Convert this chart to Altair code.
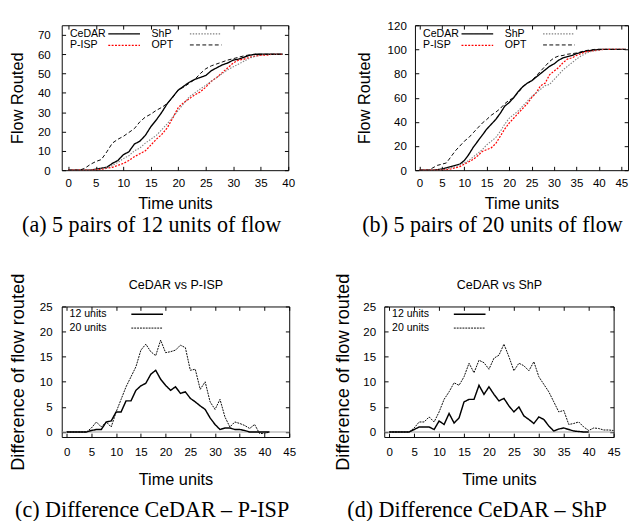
import altair as alt
import pandas as pd

# ---------------- data ----------------
# (a) 5 pairs of 12 units of flow
t_a = list(range(0, 40))
cedar_a = [0, 0, 0, 0, 0, 0.5, 1, 1.5, 3.5, 5, 8, 9.5, 13.5, 15, 18, 22.5, 26, 30, 34.5, 38,
           41.5, 43.5, 45.5, 47, 48, 49, 51.5, 53, 54.5, 55.5, 57, 57.5, 58.5, 59.5, 60, 60, 60, 60, 60, 60]
pisp_a = [0, 0, 0, 0, 0, 0.2, 0.5, 1, 1.5, 2.5, 3.5, 5, 7, 8.5, 10, 13, 16, 18.5, 22, 27,
          32.5, 35, 37, 39, 40.5, 43, 46, 48, 50.5, 53, 55.5, 57, 57.5, 58.5, 59, 59.5, 59.5, 60, 60, 60]
shp_a = [0, 0, 0, 0, 0, 0.3, 0.7, 1.2, 2.5, 4, 6, 7.5, 10, 11.5, 14, 16, 18, 21, 24, 27.5,
         31, 34.5, 38, 40, 42, 44, 46, 48, 50, 52, 53.5, 55, 56.5, 58, 59, 59.5, 60, 60, 60, 60]
opt_a = [0, 0, 0, 1, 3, 4.5, 5.5, 9.5, 14, 16, 17.5, 19.5, 21.5, 25, 27.5, 29, 31, 32.5, 34.6, 37.7,
         41.5, 43, 45, 47, 50, 52.5, 54, 55, 56, 57, 57.7, 58.5, 59.2, 59.7, 60, 60, 60, 60, 60, 60]

# (b) 5 pairs of 20 units of flow
t_b = list(range(0, 47))
cedar_b = [0, 0, 0, 0, 0.5, 1, 2, 3, 4, 5, 8, 13, 19, 24, 29, 34, 38, 42, 47, 53,
           56, 60, 65, 69, 72, 74, 77, 80, 83, 86, 88, 91, 93, 94, 95, 96.5, 97.5, 98.5, 99, 99.5,
           100, 100, 100, 100, 100, 100, 100]
pisp_b = [0, 0, 0, 0, 0, 0.2, 0.5, 1, 2, 3, 5, 7, 9, 12, 15.5, 17, 18.5, 22, 28, 34,
          39, 43, 47, 51, 55, 60, 64, 70, 72, 79, 82, 85, 89, 92, 93, 95, 96.5, 98, 98.5, 99,
          99.5, 100, 100, 100, 100, 100, 100]
shp_b = [0, 0, 0, 0, 0, 0.5, 1, 2, 3, 4.5, 6, 8, 11, 14, 17, 21, 24, 27, 32, 38,
         43, 46, 49, 53, 57, 61, 64, 67, 70, 71, 75, 79, 83, 86, 89, 92, 94.5, 96.5, 98, 99,
         99.5, 100, 100, 100, 100, 100, 100]
opt_b = [0, 0, 0, 2, 4, 5, 6, 11, 16, 20, 24, 27, 31, 35, 39, 42, 45.5, 48, 51, 55,
         58, 60, 64, 69, 72, 74, 78, 82, 86, 90, 93, 94.5, 95, 96, 96.5, 97, 98, 99, 99.5, 100,
         100, 100, 100, 100, 100, 100, 100]

# (c) Difference CeDAR - P-ISP
t_c = list(range(0, 42))
c_12 = [0, 0, 0, 0, 0, 0.3, 0.5, 0.5, 2, 2.2, 4, 4, 6.2, 6.2, 8.3, 9.2, 9.7, 11.5, 12.3, 10.5,
        9.3, 8.3, 9, 7.7, 8, 6.7, 6, 5.2, 4.5, 2.8, 1.5, 0.5, 0.8, 0.8, 0.5, 0.5, 0.3, 0, 0, 0,
        0, 0]
c_20 = [0, 0, 0, 0, 0, 0.8, 2, 1, 2, 1, 4, 6.5, 9, 11, 13, 16.3, 17.5, 16, 15.2, 18.3,
        15.8, 16, 16.3, 17.3, 16.8, 12.3, 12.5, 8.5, 10, 6, 4.5, 6.5, 3, 1, 2, 1.7, 1.3, 0.7, 1.5, -0.3,
        -0.3, 0]

# (d) Difference CeDAR - ShP
t_d12 = list(range(0, 41))
d_12 = [0, 0, 0, 0, 0, 0.5, 1, 1, 1, 0.5, 2.2, 1.5, 3.7, 1.8, 2.8, 6, 6.5, 6.5, 9.3, 7.5,
        9, 7.5, 6.2, 6.7, 5.2, 4, 5, 3.2, 2.5, 1.7, 3, 2.5, 1.2, 0.2, 0.6, 0.8, 0.5, 0.2, 0.1, 0,
        0]
t_d20 = list(range(0, 46))
d_20 = [0, 0, 0, 0, 0, 0.8, 2, 2, 3, 2, 4, 6.5, 8, 9.8, 9.3, 11, 13.7, 11.8, 14.3, 13.8,
        12.5, 14.7, 15.3, 17.5, 15, 12.2, 13.7, 13.2, 12.2, 14, 11, 9.5, 8, 6, 4, 4.3, 1.5, 1.7, 2, 1,
        0.3, 0.8, 0.7, 0.4, 0.4, 0.3]

series_ab = ["CeDAR", "P-ISP", "ShP", "OPT"]
series_cd = ["12 units", "20 units"]
x_ticks_a = [0, 5, 10, 15, 20, 25, 30, 35, 40]
x_ticks_bcd = [0, 5, 10, 15, 20, 25, 30, 35, 40, 45]
y_ticks_a = [0, 10, 20, 30, 40, 50, 60, 70]
y_ticks_b = [0, 20, 40, 60, 80, 100, 120]
y_ticks_cd = [0, 5, 10, 15, 20, 25]
# zero reference line of the difference plots, spanning the whole time axis
zero_y = [0]
zero_from = [-1]
zero_to = [45]

SANS = "Liberation Sans"
SERIF = "Liberation Serif"
INWARD = {"expr": "-4"}   # gnuplot-style ticks pointing into the plot


def long_df(pairs):
    rows = []
    for name, ts, vs in pairs:
        for t, v in zip(ts, vs):
            rows.append({"series": name, "t": t, "v": v})
    return pd.DataFrame(rows)


df_a = long_df([("CeDAR", t_a, cedar_a), ("P-ISP", t_a, pisp_a), ("ShP", t_a, shp_a), ("OPT", t_a, opt_a)])
df_b = long_df([("CeDAR", t_b, cedar_b), ("P-ISP", t_b, pisp_b), ("ShP", t_b, shp_b), ("OPT", t_b, opt_b)])
df_c = long_df([("12 units", t_c, c_12), ("20 units", t_c, c_20)])
df_d = long_df([("12 units", t_d12, d_12), ("20 units", t_d20, d_20)])
df_zero = pd.DataFrame({"z": zero_y, "x0": zero_from, "x1": zero_to})


def mirror_axis(orient, vals, title=None):
    kw = dict(orient=orient, values=vals, labels=False, tickSize=INWARD,
              tickColor="black", domain=False, grid=False)
    if title is None:
        kw["title"] = None
    else:
        kw.update(title=title, titleFont=SANS, titleFontSize=13, titleFontWeight="normal",
                  titleColor="black", titlePadding=15)
    return alt.Axis(**kw)


def panel(df, names, colors, dashes, widths, xdom, ydom, xvals, yvals, W, H,
          ytitle, ytitle_size, ylab_pad, ytitle_pad, xlab_pad, xtitle_pad, leg, zero, top_title=None):
    xs = alt.Scale(domain=xdom, nice=False, zero=False)
    ys = alt.Scale(domain=ydom, nice=False, zero=False)
    legend = alt.Legend(**leg)
    lines = alt.Chart(df).mark_line(clip=True).encode(
        x=alt.X("t:Q", scale=xs, axis=alt.Axis(
            orient="bottom", values=xvals, tickSize=INWARD, tickColor="black",
            domain=False, grid=False, labelPadding=xlab_pad, labelFlush=False,
            labelOverlap=False, labelFont=SANS, labelFontSize=12, labelColor="black",
            title="Time units", titleFont=SANS, titleFontSize=17, titleFontWeight="normal",
            titleColor="black", titlePadding=xtitle_pad)),
        y=alt.Y("v:Q", scale=ys, axis=alt.Axis(
            orient="left", values=yvals, tickSize=INWARD, tickColor="black",
            domain=False, grid=False, labelPadding=ylab_pad, labelOverlap=False,
            labelFont=SANS, labelFontSize=12, labelColor="black",
            title=ytitle, titleFont=SANS, titleFontSize=ytitle_size, titleFontWeight="normal",
            titleColor="black", titlePadding=ytitle_pad)),
        color=alt.Color("series:N", scale=alt.Scale(domain=names, range=colors), legend=legend),
        strokeDash=alt.StrokeDash("series:N", scale=alt.Scale(domain=names, range=dashes), legend=legend),
        strokeWidth=alt.StrokeWidth("series:N", scale=alt.Scale(domain=names, range=widths), legend=None),
    )
    if zero:
        back = alt.Chart(df_zero).mark_rule(color="#9a9a9a", strokeWidth=1).encode(
            x=alt.X("x0:Q", scale=xs, axis=mirror_axis("top", xvals, top_title)),
            x2="x1:Q",
            y=alt.Y("z:Q", scale=ys, axis=mirror_axis("right", yvals)),
        )
    else:
        back = alt.Chart(df).mark_point(opacity=0).encode(
            x=alt.X("t:Q", scale=xs, axis=mirror_axis("top", xvals, top_title)),
            y=alt.Y("v:Q", scale=ys, axis=mirror_axis("right", yvals)),
        )
    return alt.layer(back, lines).resolve_axis(x="independent", y="independent").properties(width=W, height=H)


leg_ab = dict(orient="none", legendX=59, legendY=3, columns=2, columnPadding=8, rowPadding=0,
              padding=0, title=None, labelAlign="left", labelOffset={"expr": "-62.5"}, labelFont=SANS,
              labelFontSize=11, labelColor="black", symbolType="M-3.3,0H3.3", symbolSize=100,
              symbolStrokeWidth=1.2)
leg_cd = dict(orient="none", legendX=83, legendY=2, columns=1, rowPadding=3,
              padding=0, title=None, labelAlign="left", labelOffset={"expr": "-86.9"}, labelFont=SANS,
              labelFontSize=11, labelColor="black", symbolType="M-3.3,0H3.3", symbolSize=100,
              symbolStrokeWidth=1.2)

colors_ab = ["black", "#ff0000", "#808080", "black"]
dashes_ab = [[1, 0], [2, 1.5], [1.5, 1.5], [4, 2.5]]
widths_ab = [1.4, 1, 1, 1]
colors_cd = ["black", "black"]
dashes_cd = [[1, 0], [2, 1]]
widths_cd = [1.5, 1]

cap_style = dict(orient="bottom", font=SERIF, fontSize=23, fontWeight="normal", color="black",
                 anchor="middle", frame="bounds")

pa = panel(df_a, series_ab, colors_ab, dashes_ab, widths_ab, [-1.2, 40], [0, 75], x_ticks_a, y_ticks_a,
           236, 151, "Flow Routed", 17, 16, 12, 12, 8, leg_ab, False).properties(
    title=alt.TitleParams("(a) 5 pairs of 12 units of flow", offset=3, **cap_style))
pb = panel(df_b, series_ab, colors_ab, dashes_ab, widths_ab, [-1, 46.5], [0, 120], x_ticks_bcd, y_ticks_b,
           222, 151, "Flow Routed", 17, 13, 14, 12, 8, leg_ab, False).properties(
    title=alt.TitleParams("(b) 5 pairs of 20 units of flow", offset=3, **cap_style))

pc = panel(df_c, series_cd, colors_cd, dashes_cd, widths_cd, [-1, 45], [-1, 25], x_ticks_bcd, y_ticks_cd,
           237, 136, "Difference of flow routed", 19, 14, 13, 14, 15, leg_cd, True, "CeDAR vs P-ISP")
pd_ = panel(df_d, series_cd, colors_cd, dashes_cd, widths_cd, [-1, 45], [-1, 25], x_ticks_bcd, y_ticks_cd,
            239, 136, "Difference of flow routed", 19, 13, 11, 14, 15, leg_cd, True, "CeDAR vs ShP")

indep = dict(color="independent", strokeDash="independent", strokeWidth="independent")

wc = alt.vconcat(pc, title=alt.TitleParams("(c) Difference CeDAR – P-ISP", offset=13, **cap_style)).resolve_scale(**indep)
wd = alt.vconcat(pd_, title=alt.TitleParams("(d) Difference CeDAR – ShP", offset=13, **cap_style)).resolve_scale(**indep)

row1 = alt.hconcat(pa, pb, spacing=62).resolve_scale(**indep)
row2 = alt.hconcat(wc, wd, spacing=38).resolve_scale(**indep)

chart = alt.vconcat(row1, row2, spacing=36).resolve_scale(**indep).properties(
    padding={"left": 0, "right": 0, "top": 0, "bottom": 0}).configure_view(stroke="black", strokeWidth=1)

chart.save("out.html", embed_options={"renderer": "svg", "actions": False})
